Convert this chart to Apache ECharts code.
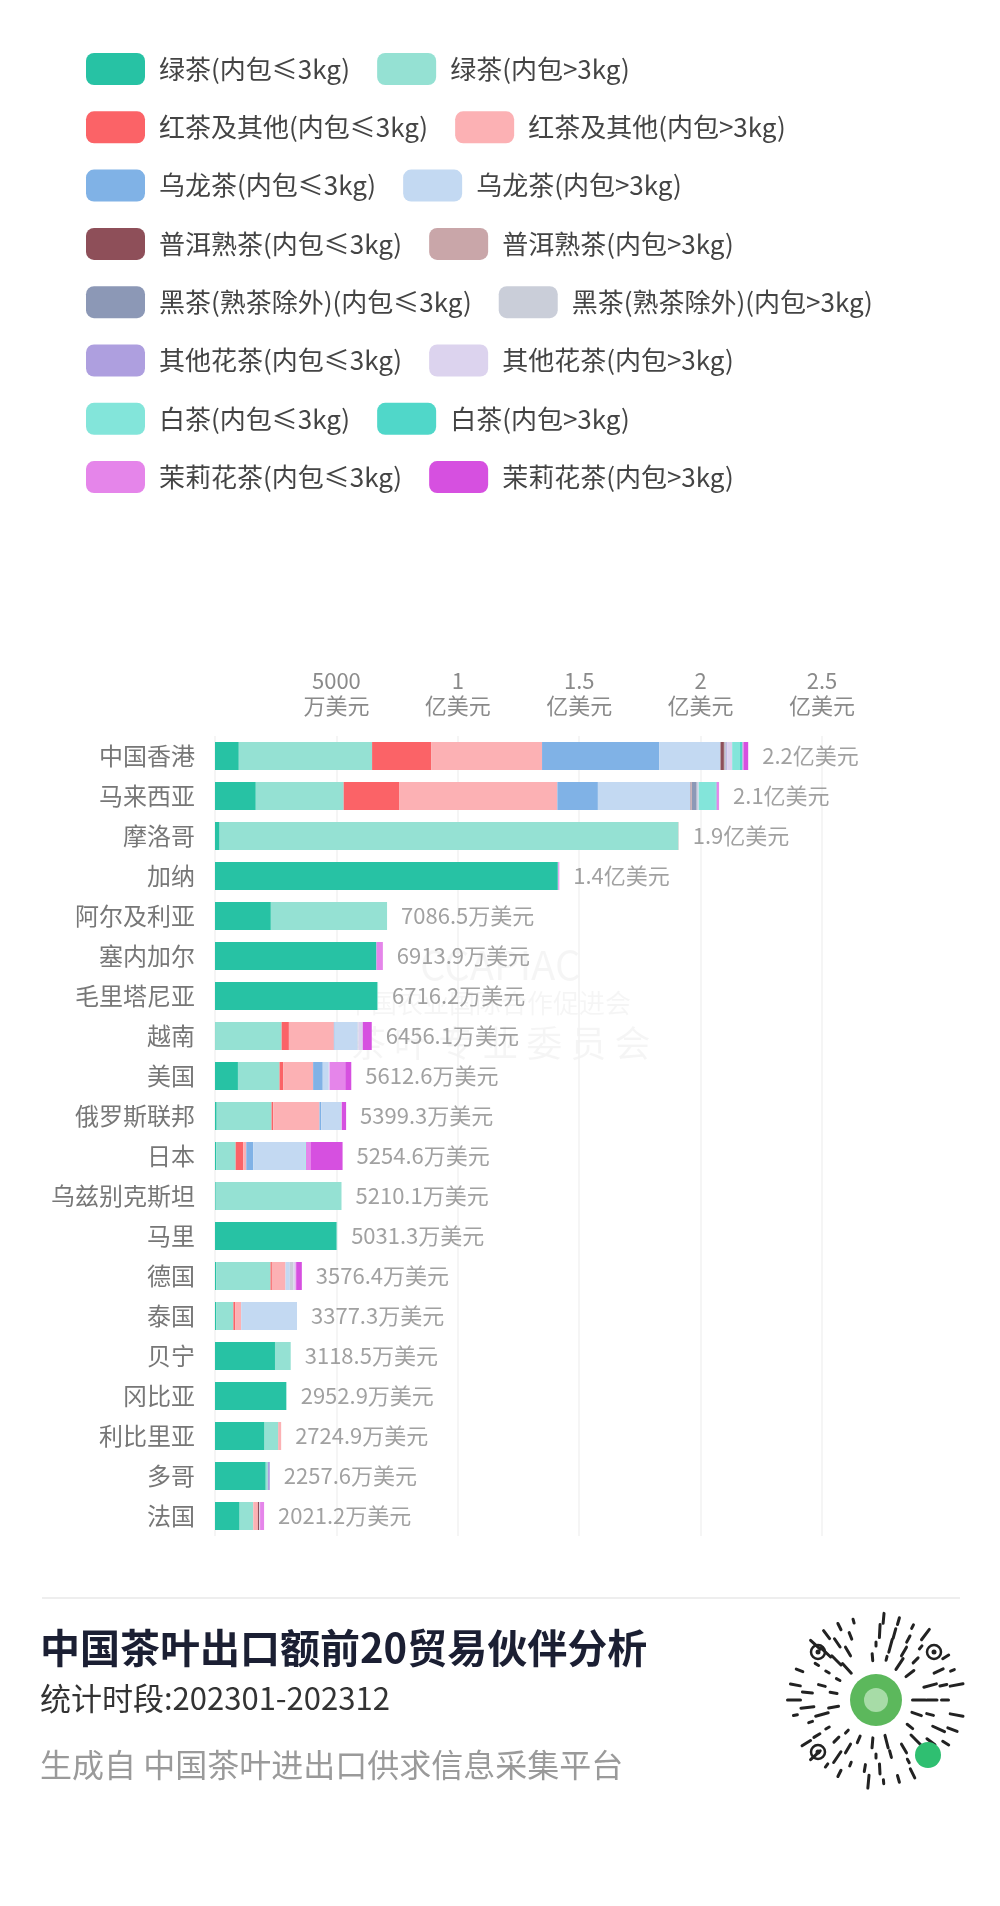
<!DOCTYPE html>
<html>
<head>
<meta charset="utf-8">
<script src="https://cdn.jsdelivr.net/npm/echarts@6/dist/echarts.min.js"></script>
<style>
html,body{margin:0;padding:0;background:#fff;}
#c{width:1000px;height:1906px;}
</style>
</head>
<body>
<div id="c"></div>
<script>
// Categories (top to bottom)
var countries = ['中国香港','马来西亚','摩洛哥','加纳','阿尔及利亚','塞内加尔','毛里塔尼亚','越南','美国','俄罗斯联邦','日本','乌兹别克斯坦','马里','德国','泰国','贝宁','冈比亚','利比里亚','多哥','法国'];
// Totals shown in labels (万美元)
var totals = [21960,20760,19100,14180,7086.5,6913.9,6716.2,6456.1,5612.6,5399.3,5254.6,5210.1,5031.3,3576.4,3377.3,3118.5,2952.9,2724.9,2257.6,2021.2];
// Series values (万美元)
var greenLe   = [980,1680,190,14120,2300,6650,6690,20,945,70,55,30,5011.3,55,57.3,2470,2932.9,2041,2090,1014];
var greenGt   = [5490,3620,18900,20,4786.5,0,26.2,2724,1713,2260,795,5180.1,20,2233,700,648.5,20,560,85.6,562];
var redLe     = [2430,2280,0,0,0,0,0,300,150,70,315,0,0,55,70,0,0,13.9,0,0];
var redGt     = [4570,6520,10,0,0,0,0,1852,1233,1904,123,0,0,562,250,0,0,110,0,192];
var oolongLe  = [4830,1670,0,0,0,0,0,30,397,70,288,0,0,0,0,0,0,0,0,0];
var oolongGt  = [2520,3820,0,0,0,0,0,950,247,822,2151,0,0,178,2300,0,0,0,0,0];
var puerLe    = [140,20,0,0,0,0,0,0,0,0,0,0,0,0,0,0,0,0,0,55];
var puerGt    = [30,30,0,0,0,0,0,0,0,0,0,0,0,0,0,0,0,0,0,0];
var darkLe    = [40,200,0,0,0,0,0,0,0,0,0,0,0,0,0,0,0,0,0,0];
var darkGt    = [30,40,0,0,0,0,0,30,0,0,0,0,0,137,0,0,0,0,0,0];
var otherLe   = [40,10,0,0,0,0,0,0,0,0,0,0,0,0,0,0,0,0,82,0];
var otherGt   = [200,30,0,0,0,0,0,180,36.6,25.3,0,0,0,96,0,0,0,0,0,34.2];
var whiteLe   = [300,700,0,0,0,0,0,0,0,0,20.6,0,0,0,0,0,0,0,0,0];
var whiteGt   = [130,40,0,0,0,0,0,0,0,0,0,0,0,0,0,0,0,0,0,0];
var jasmineLe = [40,80,0,40,0,263.9,0,0,644,0,205,0,0,27.4,0,0,0,0,0,164];
var jasmineGt = [190,20,0,0,0,0,0,370,247,178,1302,0,0,233,0,0,0,0,0,0];
// Tick values
var xTicks = [0,5000,10000,15000,20000,25000];

var seriesDefs = [
  ['绿茶(内包≤3kg)', greenLe, '#27c2a4'],
  ['绿茶(内包>3kg)', greenGt, '#95e1d3'],
  ['红茶及其他(内包≤3kg)', redLe, '#fb6367'],
  ['红茶及其他(内包>3kg)', redGt, '#fcb1b4'],
  ['乌龙茶(内包≤3kg)', oolongLe, '#80b2e6'],
  ['乌龙茶(内包>3kg)', oolongGt, '#c3d9f2'],
  ['普洱熟茶(内包≤3kg)', puerLe, '#8e4f59'],
  ['普洱熟茶(内包>3kg)', puerGt, '#c9a6a9'],
  ['黑茶(熟茶除外)(内包≤3kg)', darkLe, '#8c98b6'],
  ['黑茶(熟茶除外)(内包>3kg)', darkGt, '#caced9'],
  ['其他花茶(内包≤3kg)', otherLe, '#ae9fdf'],
  ['其他花茶(内包>3kg)', otherGt, '#dcd3ee'],
  ['白茶(内包≤3kg)', whiteLe, '#83e5da'],
  ['白茶(内包>3kg)', whiteGt, '#50d7c9'],
  ['茉莉花茶(内包≤3kg)', jasmineLe, '#e585ea'],
  ['茉莉花茶(内包>3kg)', jasmineGt, '#d650e0']
];

var FONT = '"Noto Sans CJK SC","Noto Sans",sans-serif';
var series = seriesDefs.map(function(d){
  return {name:d[0], type:'bar', stack:'total', barWidth:28, data:d[1],
          itemStyle:{color:d[2]}, emphasis:{disabled:true}, silent:true};
});
var sums = countries.map(function(c,i){
  var s = 0; seriesDefs.forEach(function(d){ s += d[1][i]; }); return s;
});
function fmtTotal(v){
  return v >= 10000 ? (v/10000).toFixed(1)+'亿美元' : v.toFixed(1)+'万美元';
}
series.push({
  type:'scatter', name:'合计', symbol:'circle', symbolSize:2, itemStyle:{color:'rgba(255,255,255,0)'}, silent:true,
  data: countries.map(function(c,i){ return [sums[i], c]; }),
  label:{show:true, position:'right', distance:13, fontSize:22, color:'#8a8a8a', fontFamily:FONT,
    formatter:function(p){ return fmtTotal(totals[p.dataIndex]); }},
  z:5
});

var legends = [];
for (var r = 0; r < 8; r++) {
  legends.push({
    top: 48 + r*58.3, left: 81, itemWidth:59, itemHeight:32, itemGap:27, icon:'roundRect',
    selectedMode:false,
    data:[seriesDefs[2*r][0], seriesDefs[2*r+1][0]],
    textStyle:{fontSize:26, color:'#444', fontFamily:FONT, padding:[0,0,0,9]}
  });
}

function xLabel(v){
  if (v === 0) return '';
  if (v < 10000) return v + '\n万美元';
  return (v/10000) + '\n亿美元';
}

// QR-like decoration
var qr = [];
var cx = 876, cy = 1700;
for (var ring = 0; ring < 4; ring++) {
  var rad = 82 - ring*13;
  var n = 34 - ring*5;
  for (var k = 0; k < n; k++) {
    if ((k*7 + ring*3) % 5 === 0) continue;
    var a = k/n*Math.PI*2;
    var len = 4 + ((k*3+ring) % 4)*3;
    qr.push({type:'line', silent:true,
      shape:{x1:cx+Math.cos(a)*(rad-len/2), y1:cy+Math.sin(a)*(rad-len/2), x2:cx+Math.cos(a)*(rad+len/2), y2:cy+Math.sin(a)*(rad+len/2)},
      style:{stroke:'#222', lineWidth:3, lineCap:'round'}});
  }
}
qr.push({type:'circle', shape:{cx:cx, cy:cy, r:30}, style:{fill:'#fff'}});
qr.push({type:'circle', shape:{cx:cx, cy:cy, r:26}, style:{fill:'#5cb85c'}});
qr.push({type:'circle', shape:{cx:cx, cy:cy, r:12}, style:{fill:'#a7dca7'}});
qr.push({type:'circle', shape:{cx:cx+52, cy:cy+55, r:13}, style:{fill:'#2fbf71'}});
[[cx-58,cy-48],[cx+58,cy-48],[cx-58,cy+52]].forEach(function(p){
  qr.push({type:'circle', shape:{cx:p[0], cy:p[1], r:7}, style:{fill:'none', stroke:'#222', lineWidth:2.5}});
  qr.push({type:'circle', shape:{cx:p[0], cy:p[1], r:2.5}, style:{fill:'#222'}});
});

var chart = echarts.init(document.getElementById('c'));
chart.setOption({
  backgroundColor:'#fff',
  animation:false,
  legend: legends,
  grid:{left:215, top:736, width:607, height:800, containLabel:false},
  xAxis:{type:'value', position:'top', min:xTicks[0], max:xTicks[xTicks.length-1], interval:xTicks[1]-xTicks[0],
    axisLine:{show:false}, axisTick:{show:false},
    splitLine:{show:true, lineStyle:{color:'#f2f2f2', width:1.5}},
    axisLabel:{formatter:xLabel, fontSize:22, lineHeight:25, color:'#8a8a8a', margin:18, fontFamily:FONT}},
  yAxis:{type:'category', inverse:true, data:countries,
    axisLine:{show:false}, axisTick:{show:false},
    axisLabel:{fontSize:24, color:'#777', margin:20, fontFamily:FONT}},
  title:[
    {text:'中国茶叶出口额前20贸易伙伴分析', left:40, top:1628, padding:0, textStyle:{fontSize:40, fontWeight:'bold', color:'#1b1f33', fontFamily:FONT}},
    {text:'统计时段:202301-202312', left:40, top:1683, padding:0, textStyle:{fontSize:31, fontWeight:'normal', color:'#333', fontFamily:FONT}},
    {text:'生成自 中国茶叶进出口供求信息采集平台', left:40, top:1749, padding:0, textStyle:{fontSize:32, fontWeight:'normal', color:'#9a9a9a', fontFamily:FONT}}
  ],
  graphic:[
    {type:'text', left:420, top:945, silent:true, style:{text:'CCAPIAC', fontSize:40, fill:'rgba(0,0,0,0.04)', fontFamily:FONT}},
    {type:'text', left:345, top:990, silent:true, style:{text:'中国农业国际合作促进会', fontSize:26, fill:'rgba(0,0,0,0.04)', fontFamily:FONT}},
    {type:'text', left:350, top:1025, silent:true, style:{text:'茶 叶 专 业 委 员 会', fontSize:36, fill:'rgba(0,0,0,0.04)', fontFamily:FONT}},
    {type:'line', shape:{x1:42, y1:1598, x2:960, y2:1598}, style:{stroke:'#eeeeee', lineWidth:2}},
    {type:'group', children:qr}
  ],
  series: series
});
</script>
</body>
</html>
